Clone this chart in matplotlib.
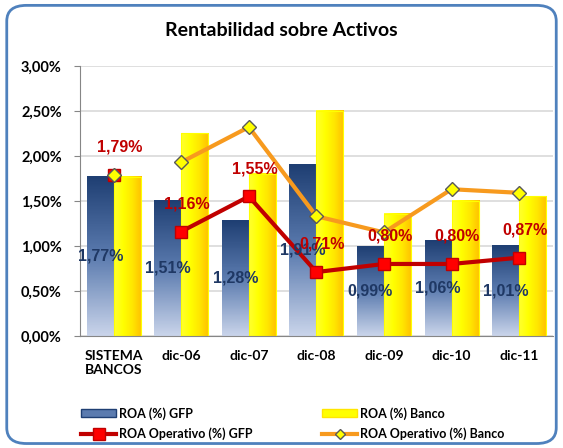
import numpy as np
import matplotlib.pyplot as plt
from matplotlib.patches import FancyBboxPatch, Patch
from matplotlib.lines import Line2D
from matplotlib.colors import LinearSegmentedColormap

categorias = ['SISTEMA\nBANCOS', 'dic-06', 'dic-07', 'dic-08', 'dic-09', 'dic-10', 'dic-11']
roa_gfp = [1.77, 1.51, 1.28, 1.91, 0.99, 1.06, 1.01]
roa_banco = [1.77, 2.25, 1.80, 2.50, 1.36, 1.50, 1.55]
roa_op_gfp = [1.79, 1.16, 1.55, 0.71, 0.80, 0.80, 0.87]
roa_op_banco = [1.79, 1.93, 2.32, 1.33, 1.15, 1.63, 1.59]

TITLE_FONT = 'Lato'
LABEL_FONT = 'Liberation Sans'
NAVY = '#1F3864'
RED = '#C00000'
ORANGE = '#F79A1E'

def pct(v):
    return ('%.2f%%' % v).replace('.', ',')

fig = plt.figure(figsize=(5.63, 4.48), dpi=100)
fig.patch.set_facecolor('white')
fig.patches.append(FancyBboxPatch((0.012, 0.01), 0.976, 0.978, boxstyle='round,pad=0,rounding_size=0.035',
                                  transform=fig.transFigure, facecolor='none', edgecolor='#4F81BD',
                                  linewidth=2, zorder=0))

ax = fig.add_axes([0.142, 0.25, 0.84, 0.603])
ax.set_facecolor('none')
x = np.arange(len(categorias))
w = 0.4

blue_cmap = LinearSegmentedColormap.from_list('b', ['#1F3F73', '#5B7BAF', '#C9D4EA'])
yellow_cmap = LinearSegmentedColormap.from_list('y', ['#FFFF30', '#FFFF00', '#FFE600', '#FFC000'])

bars_gfp = ax.bar(x - w / 2, roa_gfp, w, facecolor='none', edgecolor='none', zorder=2)
bars_banco = ax.bar(x + w / 2, roa_banco, w, facecolor='none', edgecolor='#FFFF00', linewidth=0.8, zorder=3)

vgrad = np.linspace(0, 1, 100).reshape(-1, 1)
hgrad = np.linspace(0, 1, 100).reshape(1, -1)
for b in bars_gfp:
    x0, y0 = b.get_x(), b.get_y()
    ax.imshow(vgrad, cmap=blue_cmap, aspect='auto', origin='upper',
              extent=(x0, x0 + b.get_width(), y0, y0 + b.get_height()), zorder=2)
for b in bars_banco:
    x0, y0 = b.get_x(), b.get_y()
    ax.imshow(hgrad, cmap=yellow_cmap, aspect='auto',
              extent=(x0, x0 + b.get_width(), y0, y0 + b.get_height()), zorder=2.5)

# lineas (el punto del sistema va suelto)
ax.plot(x[1:], roa_op_banco[1:], color=ORANGE, lw=3, marker='D', ms=7, mfc='#FFFF00',
        mec='#595959', mew=1, zorder=4)
ax.plot(x[1:], roa_op_gfp[1:], color=RED, lw=3, marker='s', ms=9, mfc='#FF0000',
        mec=RED, mew=1, zorder=5)
ax.plot(x[:1], roa_op_gfp[:1], ls='none', marker='s', ms=9, mfc='#FF0000', mec=RED, zorder=5)
ax.plot(x[:1], roa_op_banco[:1], ls='none', marker='D', ms=7, mfc='#FFFF00', mec='#595959', zorder=6)

for xi, v in zip(x, roa_gfp):
    ax.text(xi - w / 2, v / 2, pct(v), ha='center', va='center', fontsize=11.5,
            fontweight='bold', color=NAVY, family=LABEL_FONT, zorder=7)
for xi, v in zip(x, roa_op_gfp):
    ax.annotate(pct(v), (xi, v), xytext=(4, 20), textcoords='offset points', ha='center',
                va='center', fontsize=11.5, fontweight='bold', color=RED, family=LABEL_FONT, zorder=7)

ax.set_xlim(-0.5, len(categorias) - 0.5)
ax.set_ylim(0, 3.0)
ax.set_yticks(np.arange(0, 3.01, 0.5))
ax.set_yticklabels([pct(t) for t in np.arange(0, 3.01, 0.5)], fontsize=10.5, fontweight='bold',
                   family=TITLE_FONT)
ax.set_xticks(x)
ax.set_xticklabels(categorias, fontsize=10, fontweight='bold', family=TITLE_FONT)
ax.tick_params(axis='x', length=0, pad=10)
ax.tick_params(axis='y', length=4, color='#868686', pad=9)
ax.yaxis.grid(True, color='#D9D9D9', lw=1.2)
ax.set_axisbelow(True)
for s in ['top', 'right']:
    ax.spines[s].set_visible(False)
ax.spines['left'].set_color('#868686')
ax.spines['bottom'].set_color('#868686')

fig.text(0.5, 0.933, 'Rentabilidad sobre Activos', ha='center', va='center', fontsize=14,
         fontweight='bold', family=TITLE_FONT)

handles = [
    Patch(facecolor='#5B7BAF', edgecolor='#1F3F73'),
    Line2D([], [], color=RED, lw=3, marker='s', ms=8, mfc='#FF0000', mec=RED),
    Patch(facecolor='#FFFF00', edgecolor='#FFE600'),
    Line2D([], [], color=ORANGE, lw=3, marker='D', ms=5, mfc='#FFFF00', mec='#595959'),
]
labels = ['ROA (%) GFP', 'ROA Operativo (%) GFP', 'ROA (%) Banco', 'ROA Operativo (%) Banco']
fig.legend(handles, labels, ncol=2, loc='upper left', bbox_to_anchor=(0.133, 0.105),
           frameon=False, prop={'family': TITLE_FONT, 'weight': 'bold', 'size': 9},
           handlelength=2.8, handleheight=0.6, handletextpad=0.2, columnspacing=5.6,
           labelspacing=0.6, borderpad=0)

fig.savefig('out.png', dpi=100)
